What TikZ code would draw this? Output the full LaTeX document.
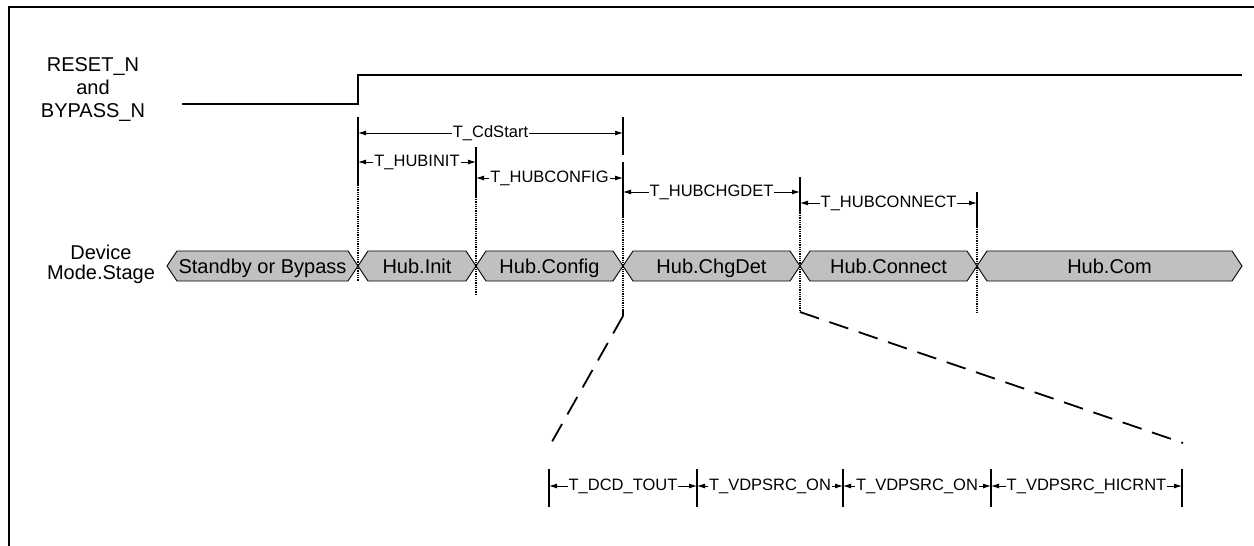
\documentclass[tikz,border=0pt]{standalone}
\usepackage{fontspec}
\setmainfont{Liberation Sans}
\usetikzlibrary{arrows.meta}
\definecolor{busgray}{HTML}{C0C0C0}
\tikzset{
 sig/.style={line width=1.2pt},
 busseg/.style={draw, line width=0.9pt, fill=busgray},
 tickline/.style={line width=1.4pt},
 dotv/.style={line width=1.6pt, dash pattern=on 1pt off 0.8pt},
 zoomline/.style={line width=1.8pt, dash pattern=on 20pt off 11pt},
 dimline/.style={line width=0.9pt, {Latex[length=8pt,width=5pt]}-{Latex[length=8pt,width=5pt]}},
 dimlabel/.style={fill=white, inner sep=1pt, font=\fontsize{16.5}{18}\selectfont},
 bigtext/.style={font=\fontsize{20}{23}\selectfont},
 segtext/.style={font=\fontsize{20}{23}\selectfont, text height=14.3pt, text depth=0pt},
}
\begin{document}
\begin{tikzpicture}[x=1pt,y=-1pt]
\path[use as bounding box] (0,0) rectangle (1254,546);
\clip (0,0) rectangle (1254,546);
% frame
\draw[line width=2.5pt] (9,570) -- (9,7) -- (1280,7);

% signal
\coordinate (s0) at (182,104);
\coordinate (s1) at (358,104);
\coordinate (s2) at (358,75);
\coordinate (s3) at (1242,75);
\draw[sig] (s0) -- (s1) -- (s2) -- (s3);
\node[bigtext, align=center] (siglabel) at (93,90) {RESET\_N\\and\\BYPASS\_N};
\node[bigtext, align=center] (buslabel) at (101,264) {Device\\[-3pt]Mode.Stage};

% bus segments
\foreach \a/\b/\t [count=\i] in {167/358/Standby or Bypass, 358/476/Hub.Init, 476/623/Hub.Config, 623/800/Hub.ChgDet, 800/977/Hub.Connect, 977/1242/Hub.Com} {
  \draw[busseg] (\a,266) -- (\a+10,251) -- (\b-10,251) -- (\b,266) -- (\b-10,281) -- (\a+10,281) -- cycle;
  \node[segtext] (seg\i) at ({(\a+\b)/2},266) {\t};
}

% vertical markers
\coordinate (v1a) at (358,117); \coordinate (v1b) at (358,185); \coordinate (v1c) at (358,282);
\draw[tickline] (v1a) -- (v1b);
\draw[dotv] (v1b) -- (v1c);

\coordinate (v2a) at (476,147); \coordinate (v2b) at (476,197); \coordinate (v2c) at (476,295);
\draw[tickline] (v2a) -- (v2b);
\draw[dotv] (v2b) -- (v2c);

\coordinate (v3a) at (623,117); \coordinate (v3b) at (623,155);
\coordinate (v3c) at (623,162); \coordinate (v3d) at (623,217);
\coordinate (v3e) at (623,310); \coordinate (v3f) at (623,316);
\coordinate (z1) at (549,447);
\draw[tickline] (v3a) -- (v3b);
\draw[tickline] (v3c) -- (v3d);
\draw[dotv] (v3d) -- (v3e);
\draw[tickline] (v3e) -- (v3f);
\draw[zoomline] (v3f) -- (z1);

\coordinate (v4a) at (800,177); \coordinate (v4b) at (800,213); \coordinate (v4c) at (800,312);
\coordinate (z2) at (1183,443);
\draw[tickline] (v4a) -- (v4b);
\draw[dotv] (v4b) -- (v4c);
\draw[zoomline] (v4c) -- (z2);

\coordinate (v5a) at (977,192); \coordinate (v5b) at (977,227); \coordinate (v5c) at (977,312);
\draw[tickline] (v5a) -- (v5b);
\draw[dotv] (v5b) -- (v5c);

% dimensions
\coordinate (d1a) at (358,133); \coordinate (d1b) at (623,133);
\draw[dimline] (d1a) -- node[dimlabel] (l1) {T\_CdStart} (d1b);
\coordinate (d2a) at (358,162); \coordinate (d2b) at (476,162);
\draw[dimline] (d2a) -- node[dimlabel] (l2) {T\_HUBINIT} (d2b);
\coordinate (d3a) at (476,178); \coordinate (d3b) at (623,178);
\draw[dimline] (d3a) -- node[dimlabel] (l3) {T\_HUBCONFIG} (d3b);
\coordinate (d4a) at (623,192); \coordinate (d4b) at (800,192);
\draw[dimline] (d4a) -- node[dimlabel] (l4) {T\_HUBCHGDET} (d4b);
\coordinate (d5a) at (800,203); \coordinate (d5b) at (977,203);
\draw[dimline] (d5a) -- node[dimlabel] (l5) {T\_HUBCONNECT} (d5b);

% bottom zoomed dimensions
\foreach \x/\w [count=\i] in {549/1.4pt, 697/2.2pt, 843/2.2pt, 991/2.2pt, 1182/1.4pt} {
  \coordinate (bt\i) at (\x,469);
  \coordinate (bb\i) at (\x,507);
  \coordinate (bm\i) at (\x,486);
  \draw[line width=\w] (bt\i) -- (bb\i);
}
\draw[dimline] (bm1) -- node[dimlabel] (m1) {T\_DCD\_TOUT} (bm2);
\draw[dimline] (bm2) -- node[dimlabel] (m2) {T\_VDPSRC\_ON} (bm3);
\draw[dimline] (bm3) -- node[dimlabel] (m3) {T\_VDPSRC\_ON} (bm4);
\draw[dimline] (bm4) -- node[dimlabel] (m4) {T\_VDPSRC\_HICRNT} (bm5);
\end{tikzpicture}
\end{document}
